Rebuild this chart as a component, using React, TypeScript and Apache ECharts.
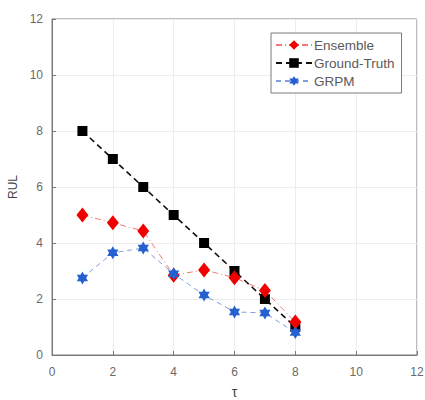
import React, { useEffect, useRef } from "react";
import * as echarts from "echarts";

const xValues = [1, 2, 3, 4, 5, 6, 7, 8];
const ensemble = [5.0, 4.72, 4.43, 2.85, 3.04, 2.76, 2.3, 1.18];
const groundTruth = [8, 7, 6, 5, 4, 3, 2, 1];
const grpm = [2.75, 3.65, 3.82, 2.9, 2.14, 1.54, 1.5, 0.8];
const seriesNames = ["Ensemble", "Ground-Truth", "GRPM"];

const hexagram =
  "path://M10 0 L12.89 5 L18.66 5 L15.77 10 L18.66 15 L12.89 15 L10 20 L7.11 15 L1.34 15 L4.23 10 L1.34 5 L7.11 5 Z";

const pairs = (ys: number[]) => xValues.map((x, i) => [x, ys[i]]);

export default function App() {
  const ref = useRef<HTMLDivElement>(null);
  useEffect(() => {
    if (!ref.current) return;
    const chart = echarts.init(ref.current, undefined, { renderer: "svg" });
    const font = "Liberation Sans, Arial, Helvetica, sans-serif";
    chart.setOption({
      animation: false,
      backgroundColor: "#ffffff",
      textStyle: { fontFamily: font },
      grid: {
        left: 52,
        right: 8,
        top: 19,
        bottom: 45,
        outerBoundsMode: "none",
        containLabel: false,
        show: true,
        borderColor: "#7a7a7a",
        borderWidth: 1,
      },
      legend: {
        left: 271,
        top: 33,
        orient: "vertical",
        itemWidth: 36,
        itemHeight: 12,
        itemGap: 4,
        padding: [5, 7, 5, 4],
        borderColor: "#7a7a7a",
        borderWidth: 1,
        backgroundColor: "#ffffff",
        textStyle: {
          fontSize: 13.5,
          color: "#5a5a5a",
          fontFamily: font,
          padding: [0, 0, 0, -3],
        },
        data: seriesNames,
      },
      xAxis: {
        type: "value",
        min: 0,
        max: 12,
        interval: 2,
        name: "τ",
        nameLocation: "middle",
        nameGap: 30,
        nameTextStyle: { fontSize: 14, color: "#444" },
        axisLine: { show: true, lineStyle: { color: "#7a7a7a" } },
        axisTick: { show: true, inside: true, length: 4, lineStyle: { color: "#7a7a7a" } },
        axisLabel: { color: "#6a6a6a", fontSize: 12, margin: 11 },
        splitLine: { show: true, lineStyle: { color: "#ececec" } },
      },
      yAxis: {
        type: "value",
        min: 0,
        max: 12,
        interval: 2,
        name: "RUL",
        nameLocation: "middle",
        nameGap: 30,
        nameTextStyle: { fontSize: 12, color: "#444" },
        axisLine: { show: true, lineStyle: { color: "#7a7a7a" } },
        axisTick: { show: true, inside: true, length: 4, lineStyle: { color: "#7a7a7a" } },
        axisLabel: { color: "#6a6a6a", fontSize: 12, margin: 9 },
        splitLine: { show: true, lineStyle: { color: "#ececec" } },
      },
      series: [
        {
          name: seriesNames[0],
          type: "line",
          data: pairs(ensemble),
          symbol: "diamond",
          symbolSize: [12, 15],
          itemStyle: { color: "#f00000" },
          lineStyle: { color: "#f27a7a", width: 1, type: [6, 3, 1, 3] },
          z: 3,
        },
        {
          name: seriesNames[1],
          type: "line",
          data: pairs(groundTruth),
          symbol: "rect",
          symbolSize: 10,
          itemStyle: { color: "#000000" },
          lineStyle: { color: "#111111", width: 1.6, type: [6, 4] },
          z: 2,
        },
        {
          name: seriesNames[2],
          type: "line",
          data: pairs(grpm),
          symbol: hexagram,
          symbolKeepAspect: true,
          symbolSize: 13,
          itemStyle: { color: "#2560d0" },
          lineStyle: { color: "#7f9fdf", width: 1, type: [5, 4] },
          z: 4,
        },
      ],
    });
    return () => chart.dispose();
  }, []);
  return (
    <div
      ref={ref}
      style={{ position: "fixed", left: 0, top: 0, width: 425, height: 400 }}
    />
  );
}
